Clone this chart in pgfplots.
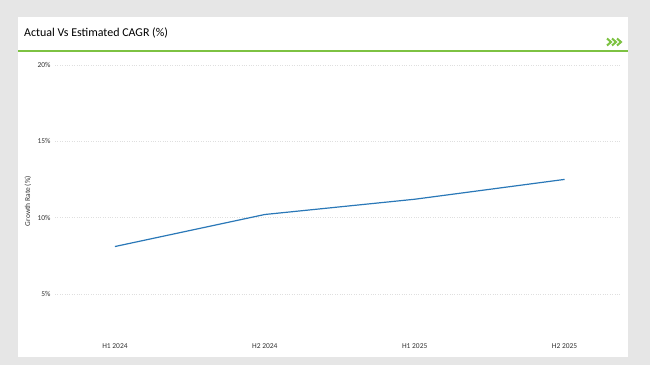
\documentclass[border=0pt]{standalone}
\usepackage{pgfplots}
\pgfplotsset{compat=1.18}
\usepackage{fontspec}
\setmainfont{Carlito}
\definecolor{bggray}{HTML}{E6E6E6}
\definecolor{lgreen}{HTML}{7DC242}
\definecolor{lineblue}{HTML}{2A78B8}
\begin{document}
\begin{tikzpicture}[x=1bp,y=1bp]
\useasboundingbox (0,0) rectangle (650,365);
\fill[bggray] (0,0) rectangle (650,365);
\fill[white] (18,8) rectangle (628,348);
\node[anchor=west,inner sep=0pt] at (24,332) {\fontsize{12}{14}\selectfont Actual Vs Estimated CAGR (\%)};
\draw[lgreen,line width=2bp] (18,314) -- (628,314);
\foreach \xx in {607,612,617}{
  \draw[lgreen,line width=2bp,line cap=butt,line join=miter] (\xx,326.5) -- (\xx+4,323) -- (\xx,319.5);
}
\begin{axis}[
  at={(55bp,30bp)}, anchor=south west,
  scale only axis, width=565bp, height=270bp,
  xmin=-0.4, xmax=3.37, ymin=2.3, ymax=20,
  axis line style={draw=none},
  major tick length=0pt,
  xtick={0,1,2,3},
  xticklabels={H1 2024,H2 2024,H1 2025,H2 2025},
  ytick={5,10,15,20},
  yticklabels={5\%,10\%,15\%,20\%},
  ymajorgrids,
  grid style={dotted, gray!25, line width=0.6bp},
  tick label style={font=\fontsize{7.5}{9}\selectfont, text=black!80},
  /pgf/number format/assume math mode=true,
  xticklabel style={yshift=-5bp},
  yticklabel style={xshift=-1bp},
  ylabel={Growth Rate (\%)},
  ylabel style={font=\fontsize{7.5}{9}\selectfont, text=black!80, anchor=center, at={(axis description cs:-0.048,0.496)}},
  clip=false,
]
\addplot[lineblue, line width=1.2bp, mark=none] coordinates {(0,8.1) (1,10.2) (2,11.2) (3,12.5)};
\end{axis}
\end{tikzpicture}
\end{document}
